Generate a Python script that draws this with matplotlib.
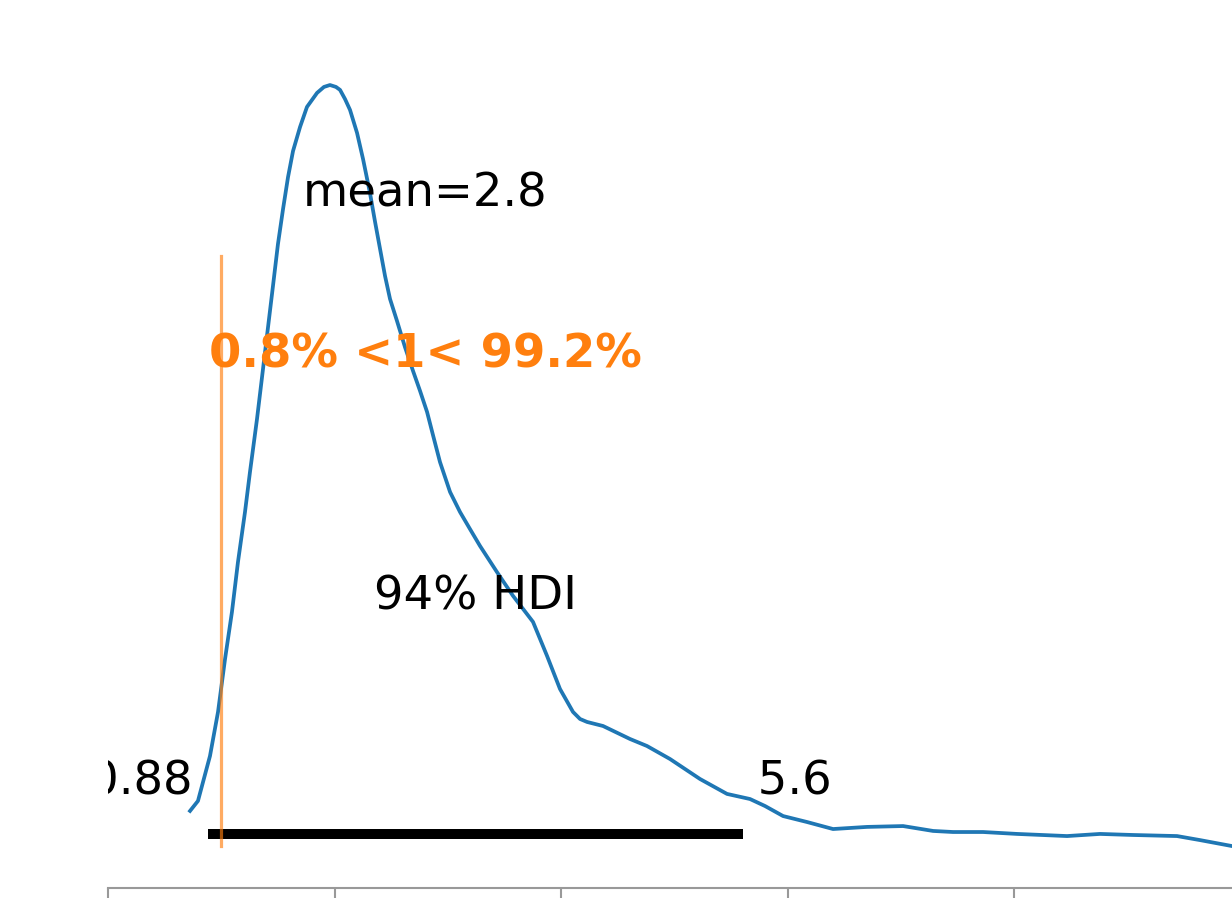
import matplotlib
matplotlib.use("Agg")
import matplotlib.pyplot as plt

# posterior kde
kde_x = [0.724, 0.794, 0.900, 0.971, 1.033, 1.094, 1.147, 1.209, 1.253, 1.315,
         1.386, 1.456, 1.500, 1.545, 1.589, 1.633, 1.695, 1.756, 1.845, 1.906,
         1.959, 2.012, 2.048, 2.092, 2.136, 2.198, 2.251, 2.312, 2.357, 2.401,
         2.445, 2.489, 2.551, 2.621, 2.692, 2.754, 2.816, 2.868, 2.930, 3.019,
         3.107, 3.195, 3.283, 3.433, 3.575, 3.751, 3.875, 3.989, 4.104, 4.166,
         4.228, 4.369, 4.607, 4.757, 4.960, 5.225, 5.463, 5.666, 5.799, 5.958,
         6.169, 6.399, 6.699, 7.017, 7.282, 7.458, 7.723, 8.023, 8.464, 8.755,
         9.047, 9.435, 9.638, 9.920, 10.30]
kde_y = [0.0182, 0.0229, 0.0440, 0.0647, 0.0896, 0.1117, 0.1351, 0.1586, 0.1774, 0.2023,
         0.2338, 0.2648, 0.2845, 0.3010, 0.3160, 0.3282, 0.3395, 0.3489, 0.3555, 0.3583,
         0.3592, 0.3583, 0.3569, 0.3526, 0.3475, 0.3367, 0.3244, 0.3085, 0.2949, 0.2822,
         0.2695, 0.2587, 0.2483, 0.2361, 0.2249, 0.2155, 0.2056, 0.1948, 0.1821, 0.1680,
         0.1586, 0.1506, 0.1427, 0.1304, 0.1192, 0.1070, 0.0910, 0.0755, 0.0647, 0.0614,
         0.0600, 0.0581, 0.0520, 0.0487, 0.0426, 0.0332, 0.0262, 0.0238, 0.0205, 0.0158,
         0.0130, 0.0097, 0.0107, 0.0111, 0.0088, 0.0083, 0.0083, 0.0074, 0.0064, 0.0074,
         0.0069, 0.0064, 0.0045, 0.0017, 0.0008]

mean_val = 2.8
hdi_low, hdi_high = 0.88, 5.6
hdi_prob = 94
ref_val = 1
pct_below, pct_above = 0.8, 99.2
xticks = [0, 2, 4, 6, 8]

fig = plt.figure(figsize=(12.32, 9.04), dpi=100)
ax = fig.add_axes([108 / 1232, 15 / 904, 1124 / 1232, 843 / 904])

ax.plot(kde_x, kde_y, color="C0", lw=2.7)
ax.set_xticks(xticks)
ax.set_xlim(0, 9.92)
ax.set_ylim(-0.018, 0.378)
ph = ax.get_ylim()[1]

fs = 33.5
# hdi bar and labels
ax.plot([hdi_low, hdi_high], [ph * 0.02, ph * 0.02], lw=7.2, color="k",
        solid_capstyle="butt")
ax.text(hdi_low, ph * 0.07, f"{hdi_low:g} ", size=fs, ha="right", clip_on=True)
ax.text(hdi_high, ph * 0.07, f" {hdi_high:g}", size=fs, ha="left")
ax.text((hdi_low + hdi_high) / 2, ph * 0.3, f"{hdi_prob}% HDI", size=fs, ha="center")

# point estimate
ax.text(mean_val, ph * 0.8, f"mean={mean_val:g}", size=fs, ha="center")

# reference value
ax.axvline(ref_val, ymin=0.05, ymax=0.75, lw=2.3, alpha=0.65, color="C1")
ax.text(mean_val, ph * 0.6, f"{pct_below}% <{ref_val}< {pct_above}%", size=fs,
        weight="semibold", ha="center", color="C1")

ax.tick_params(axis="x", length=7, width=1.5, color="#999999", labelbottom=False)
ax.set_yticks([])
for side in ["left", "right", "top"]:
    ax.spines[side].set_visible(False)
ax.spines["bottom"].set_color("#999999")
ax.spines["bottom"].set_linewidth(1.5)

fig.savefig("out.png", dpi=100)
